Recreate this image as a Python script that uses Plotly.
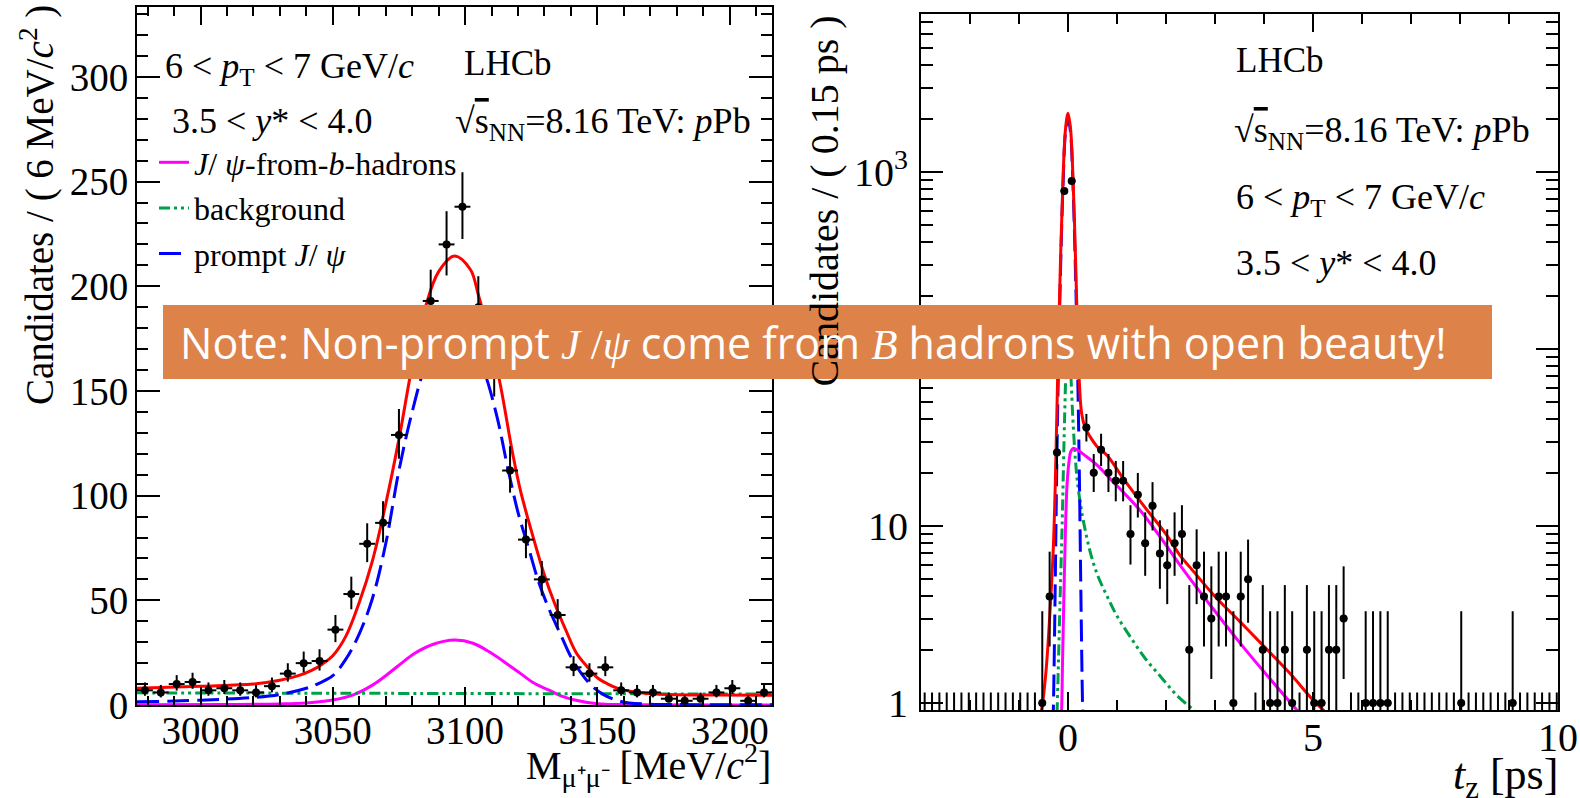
import plotly.graph_objects as go

FIG_W, FIG_H = 1580, 798


def px(x):
    return x / FIG_W


def py(y):
    return 1 - y / FIG_H


# ---------------------------------------------------------------- data
# Left panel: dimuon invariant mass, 6 MeV bins
mass_centers = [2979, 2985, 2991, 2997, 3003, 3009, 3015, 3021, 3027, 3033,
                3039, 3045, 3051, 3057, 3063, 3069, 3075, 3081, 3087, 3093,
                3099, 3105, 3111, 3117, 3123, 3129, 3135, 3141, 3147, 3153,
                3159, 3165, 3171, 3177, 3183, 3189, 3195, 3201, 3207, 3213]
mass_counts = [7, 6, 10, 11, 7, 8, 7, 6, 9, 15,
               20, 21, 36, 53, 77, 87, 129, 170, 193, 220,
               238, 190, 160, 112, 79, 60, 43, 18, 15, 18,
               7, 6, 6, 3, 2, 3, 6, 8, 2, 6]
mass_halfbin = 3

# fitted curves
m_total_x = [2976, 3000, 3020, 3030, 3037, 3042, 3046, 3050, 3055, 3060, 3065, 3070,
             3075, 3080, 3085, 3090, 3096, 3102, 3105, 3108, 3113, 3118, 3121, 3126,
             3130, 3134, 3138, 3142, 3146, 3150, 3154, 3158, 3163, 3170, 3180, 3195, 3216]
m_total_y = [8.0, 9.0, 10.0, 11.8, 14.0, 16.5, 19.5, 23.5, 33, 49, 69, 96,
             127, 162, 190, 207, 214.5, 208, 196, 182, 155, 120, 102, 79,
             62, 48, 36, 25, 18.5, 13, 10, 7.8, 6.4, 5.4, 4.9, 4.75, 4.7]
m_prompt_x = [2976, 3000, 3020, 3030, 3040, 3045, 3050, 3055, 3060, 3065, 3070, 3075,
              3080, 3085, 3090, 3096, 3102, 3107, 3112, 3116, 3120, 3124, 3128, 3132,
              3136, 3140, 3144, 3148, 3152, 3157, 3162, 3170, 3185, 3216]
m_prompt_y = [1.5, 2.3, 3.6, 5.0, 8.0, 10.5, 14, 22, 34, 51, 77, 112,
              140, 162, 174, 177, 173, 160, 138, 114, 92, 75, 58, 45,
              34, 23, 15, 9, 5.2, 2.4, 1.0, 0.4, 0.15, 0.1]
m_fromb_x = [2976, 3010, 3030, 3040, 3050, 3058, 3065, 3070, 3075, 3081, 3088, 3096,
             3103, 3110, 3116, 3121, 3126, 3131.5, 3136, 3141.5, 3150, 3160, 3216]
m_fromb_y = [0.1, 0.2, 0.5, 1.0, 2.4, 5.0, 9.5, 14, 19, 24.7, 29, 31,
             29.5, 24.7, 19.5, 15, 10.5, 7.2, 4.5, 2.4, 0.6, 0.2, 0.05]
m_bkg_x = [2976, 3096, 3216]
m_bkg_y = [5.8, 5.5, 5.2]

# Right panel: pseudo proper time, 0.15 ps bins
t_centers = [-2.925, -2.775, -2.625, -2.475, -2.325, -2.175, -2.025, -1.875, -1.725, -1.575,
             -1.425, -1.275, -1.125, -0.975, -0.825, -0.675, -0.525, -0.375, -0.225, -0.075,
             0.075, 0.225, 0.375, 0.525, 0.675, 0.825, 0.975, 1.125, 1.275, 1.425,
             1.575, 1.725, 1.875, 2.025, 2.175, 2.325, 2.475, 2.625, 2.775, 2.925,
             3.075, 3.225, 3.375, 3.525, 3.675, 3.825, 3.975, 4.125, 4.275, 4.425,
             4.575, 4.725, 4.875, 5.025, 5.175, 5.325, 5.475, 5.625, 5.775, 5.925,
             6.075, 6.225, 6.375, 6.525, 6.675, 6.825, 6.975, 7.125, 7.275, 7.425,
             7.575, 7.725, 7.875, 8.025, 8.175, 8.325, 8.475, 8.625, 8.775, 8.925,
             9.075, 9.225, 9.375, 9.525, 9.675, 9.825, 9.975]
t_counts = [0, 0, 0, 0, 0, 0, 0, 0, 0, 0,
            0, 0, 0, 0, 0, 0, 1, 4, 26, 782,
            889, 95, 36, 20, 27, 20, 18, 18, 9, 15,
            8, 13, 7, 6, 8, 9, 2, 6, 4, 3,
            4, 4, 1, 4, 5, 0, 2, 1, 1, 2,
            1, 0, 2, 1, 1, 2, 2, 3, 0, 0,
            1, 1, 1, 1, 0, 0, 0, 0, 0, 0,
            0, 0, 0, 1, 0, 0, 0, 0, 0, 0,
            1, 0, 0, 0, 0, 0, 0]
t_halfbin = 0.075

t_total_x = [-0.62, -0.54, -0.45, -0.37, -0.30, -0.26, -0.23, -0.20, -0.15, -0.10, -0.05, 0.0,
             0.05, 0.10, 0.15, 0.19, 0.23, 0.28, 0.35, 0.45, 0.6, 0.8, 1.13, 1.5,
             2.0, 2.29, 2.5, 3.0, 3.5, 3.92, 4.5, 5.0, 5.21, 5.4]
t_total_y = [0.75, 0.913, 1.5, 3.2, 7.5, 17, 40, 95, 340, 950, 1760, 2150,
             1780, 960, 350, 140, 66, 43, 36, 32, 28, 25, 18.5, 13.5,
             9.0, 6.8, 5.8, 4.0, 2.9, 2.2, 1.5, 1.04, 0.913, 0.8]
t_prompt_x = [-0.33, -0.30, -0.27, -0.23, -0.20, -0.15, -0.10, -0.05, 0.0,
              0.05, 0.10, 0.15, 0.20, 0.23, 0.27, 0.30, 0.33]
t_prompt_y = [0.5, 0.9, 3.0, 21, 66, 294, 870, 1690, 2010,
              1690, 870, 294, 66, 21, 3.0, 0.9, 0.5]
t_fromb_x = [-0.16, -0.13, -0.11, -0.08, -0.05, -0.02, 0.02, 0.06, 0.11, 0.2, 0.35, 0.6,
             0.9, 1.13, 1.5, 2.0, 2.29, 2.5, 3.0, 3.5, 4.0, 4.67, 4.85]
t_fromb_y = [0.6, 0.913, 1.8, 4.5, 10, 17, 23, 26.5, 27.5, 26.8, 25, 22,
             18, 15.5, 12, 7.8, 6.0, 5.0, 3.3, 2.2, 1.5, 0.913, 0.8]
t_bkg_x = [-0.24, -0.20, -0.16, -0.12, -0.07, -0.03, 0.0, 0.03, 0.06, 0.10, 0.15, 0.20,
           0.27, 0.31, 0.45, 0.6, 0.8, 1.0, 1.3, 1.6, 1.9, 2.2, 2.56, 2.75]
t_bkg_y = [0.6, 1.5, 4, 10, 40, 90, 110, 100, 70, 40, 24, 17,
           12.5, 10.8, 7.2, 5.3, 4.0, 3.1, 2.3, 1.75, 1.4, 1.12, 0.913, 0.82]

# 68% Poisson intervals (minus, plus) used for the data error bars
POISSON_ERR = {0: (0.0, 1.148), 1: (0.827, 2.300), 2: (1.292, 2.638), 3: (1.633, 2.918),
               4: (1.914, 3.163), 5: (2.160, 3.382), 6: (2.380, 3.584), 7: (2.581, 3.770),
               8: (2.768, 3.945), 9: (2.943, 4.110), 10: (3.108, 4.266), 11: (3.265, 4.416),
               13: (3.56, 4.70), 15: (3.83, 4.95), 18: (4.21, 5.30), 20: (4.44, 5.53),
               21: (4.55, 5.64), 26: (5.06, 6.13), 27: (5.16, 6.22), 36: (5.97, 7.00),
               43: (6.54, 7.58), 53: (7.27, 8.30), 60: (7.73, 8.77), 77: (8.77, 9.80),
               79: (8.88, 9.92), 87: (9.32, 10.35), 95: (9.74, 10.77), 112: (10.58, 11.62),
               129: (11.36, 12.39), 160: (12.65, 13.68), 170: (13.04, 14.07), 190: (13.78, 14.81),
               193: (13.89, 14.92), 220: (14.83, 15.86), 238: (15.43, 16.46),
               782: (27.96, 28.99), 889: (29.82, 30.85)}

# ---------------------------------------------------------------- style
SERIF = "Liberation Serif"
RED, MAG, BLUE, GREEN = "#ff0000", "#ff00ff", "#0000ff", "#00a04a"
DASH_BLUE = "22px,8px"
DASH_GREEN = "11px,4px,3px,4px,3px,4px"

fig = go.Figure()


def curve(x, y, color, dash, xa, ya, name=None, show=False, group=None):
    return go.Scatter(x=x, y=y, mode="lines", xaxis=xa, yaxis=ya, name=name,
                      showlegend=show, legendgroup=group, hoverinfo="skip",
                      line=dict(color=color, width=3, dash=dash, shape="spline", smoothing=1.0))


# left curves (legend entries come from here)
fig.add_trace(curve(m_fromb_x, m_fromb_y, MAG, "solid", "x", "y",
                    "<i>J</i>/ <i>ψ</i>-from-<i>b</i>-hadrons", True, "g1"))
fig.add_trace(curve(m_bkg_x, m_bkg_y, GREEN, DASH_GREEN, "x", "y", "background", True, "g2"))
fig.add_trace(curve(m_prompt_x, m_prompt_y, BLUE, DASH_BLUE, "x", "y", "prompt <i>J</i>/ <i>ψ</i>", True, "g3"))
fig.add_trace(curve(m_total_x, m_total_y, RED, "solid", "x", "y"))

# left data
fig.add_trace(go.Scatter(
    x=mass_centers, y=mass_counts, mode="markers", xaxis="x", yaxis="y", showlegend=False,
    marker=dict(color="black", size=8),
    error_y=dict(type="data", symmetric=False,
                 array=[POISSON_ERR[n][1] for n in mass_counts],
                 arrayminus=[POISSON_ERR[n][0] for n in mass_counts],
                 color="black", thickness=2, width=0),
    error_x=dict(type="constant", value=mass_halfbin, color="black", thickness=2, width=0)))

# right curves
fig.add_trace(curve(t_bkg_x, t_bkg_y, GREEN, DASH_GREEN, "x2", "y2"))
fig.add_trace(curve(t_prompt_x, t_prompt_y, BLUE, DASH_BLUE, "x2", "y2"))
fig.add_trace(curve(t_fromb_x, t_fromb_y, MAG, "solid", "x2", "y2"))
fig.add_trace(curve(t_total_x, t_total_y, RED, "solid", "x2", "y2"))

# right data: non-empty bins
nz = [(t, n) for t, n in zip(t_centers, t_counts) if n > 0]
fig.add_trace(go.Scatter(
    x=[t for t, n in nz], y=[n for t, n in nz], mode="markers", xaxis="x2", yaxis="y2",
    showlegend=False, marker=dict(color="black", size=8),
    error_y=dict(type="data", symmetric=False,
                 array=[POISSON_ERR[n][1] for t, n in nz],
                 arrayminus=[POISSON_ERR[n][0] for t, n in nz],
                 color="black", thickness=2, width=0),
    error_x=dict(type="constant", value=t_halfbin, color="black", thickness=2, width=0)))
# right data: empty bins (only the upper Poisson error is visible on a log scale)
zb = [t for t, n in zip(t_centers, t_counts) if n == 0]
zero_hi = POISSON_ERR[0][1]
fig.add_trace(go.Scatter(
    x=zb, y=[zero_hi] * len(zb), mode="markers", xaxis="x2", yaxis="y2", showlegend=False,
    marker=dict(color="black", size=0.1, opacity=0),
    error_y=dict(type="data", symmetric=False, array=[0] * len(zb),
                 arrayminus=[zero_hi * 0.99] * len(zb), color="black", thickness=2, width=0)))

# ---------------------------------------------------------------- axes
common = dict(showline=True, linewidth=2, linecolor="black", mirror="allticks",
              ticks="inside", tickwidth=2, tickcolor="black", showgrid=False,
              zeroline=False, automargin=False)
font_left = dict(family=SERIF, size=39, color="black")
font_right = dict(family=SERIF, size=40, color="black")

fig.update_layout(
    width=FIG_W, height=FIG_H, margin=dict(l=0, r=0, t=0, b=0, autoexpand=False),
    paper_bgcolor="white", plot_bgcolor="white", showlegend=True,
    xaxis=dict(domain=[px(137), px(772)], range=[2976, 3216], anchor="y",
               tick0=3000, dtick=50, ticklen=18, tickfont=font_left,
               minor=dict(ticks="inside", dtick=10, tick0=3000, ticklen=9, tickwidth=1.5,
                          tickcolor="black", showgrid=False),
               ticklabelstandoff=-10, **common),
    yaxis=dict(domain=[py(705), py(7)], range=[0, 333.4], anchor="x",
               tick0=0, dtick=50, ticklen=23, tickfont=font_left,
               minor=dict(ticks="inside", dtick=10, tick0=0, ticklen=11, tickwidth=1.5,
                          tickcolor="black", showgrid=False),
               ticklabelstandoff=-1, **common),
    xaxis2=dict(domain=[px(921), px(1558)], range=[-3, 10], anchor="y2",
                tick0=0, dtick=5, ticklen=18, tickfont=font_right,
                minor=dict(ticks="inside", dtick=1, tick0=0, ticklen=10, tickwidth=1.5,
                           tickcolor="black", showgrid=False),
                ticklabelstandoff=-9, **common),
    yaxis2=dict(domain=[py(710), py(14)], type="log", range=[-0.0395, 3.893], anchor="x2",
                tickmode="array", tickvals=[1, 10, 100, 1000],
                ticktext=["1", "10", "10<sup>2</sup>", "10<sup>3</sup>"], ticklen=22,
                tickfont=font_right,
                minor=dict(ticks="inside", ticklen=12, tickwidth=1.5, tickcolor="black",
                           tickmode="array",
                           tickvals=[2, 3, 4, 5, 6, 7, 8, 9, 20, 30, 40, 50, 60, 70, 80, 90,
                                     200, 300, 400, 500, 600, 700, 800, 900,
                                     2000, 3000, 4000, 5000, 6000, 7000], showgrid=False),
                ticklabelstandoff=3, **common),
    legend=dict(x=px(154), y=py(135), xanchor="left", yanchor="top",
                font=dict(family=SERIF, size=32, color="black"), bgcolor="rgba(0,0,0,0)",
                traceorder="grouped", tracegroupgap=1, itemwidth=30),
)

# ---------------------------------------------------------------- text
ann = []


def txt(x, y, s, size=36, xanchor="left", yanchor="middle", angle=0, family=SERIF, color="black"):
    ann.append(dict(x=px(x), y=py(y), xref="paper", yref="paper", text=s, showarrow=False,
                    xanchor=xanchor, yanchor=yanchor, textangle=angle,
                    font=dict(family=family, size=size, color=color)))


sqrt_s = "√<span style='text-decoration:overline'>s</span><sub>NN</sub>=8.16 TeV: <i>p</i>Pb"
pt_bin = "6 &lt; <i>p</i><sub>T</sub> &lt; 7 GeV/<i>c</i>"
y_bin = "3.5 &lt; <i>y</i>* &lt; 4.0"

txt(163, 68, pt_bin)
txt(462, 63, "LHCb", 35)
txt(170, 121, y_bin)
txt(453, 123, sqrt_s)

txt(1234, 61, "LHCb", 35)
txt(1232, 132, sqrt_s)
txt(1234, 199, pt_bin)
txt(1234, 263, y_bin)

txt(37, 3, "Candidates / ( 6 MeV/<i>c</i><sup>2</sup> )", 39, "center", "top", -90)
txt(824, 14, "Candidates / ( 0.15 ps )", 40, "center", "top", -90)
txt(773, 765, "M<sub>μ⁺μ⁻</sub> [MeV/<i>c</i><sup>2</sup>]", 40, "right", "middle")
txt(1560, 777, "<i>t</i><sub>z</sub> [ps]", 44, "right", "middle")

# orange note banner
fig.add_shape(type="rect", xref="paper", yref="paper", x0=px(163), x1=px(1492),
              y0=py(379), y1=py(305), fillcolor="#dd8248", line=dict(width=0), layer="above")
txt(178, 342,
    "Note: Non-prompt <span style='font-family:Liberation Serif'><i>J</i> /<i>ψ</i></span> come from "
    "<span style='font-family:Liberation Serif'><i>B</i></span> hadrons with open beauty!",
    43, "left", "middle", 0, "Open Sans", "white")

fig.update_layout(annotations=ann)
fig.write_html("out.html")
